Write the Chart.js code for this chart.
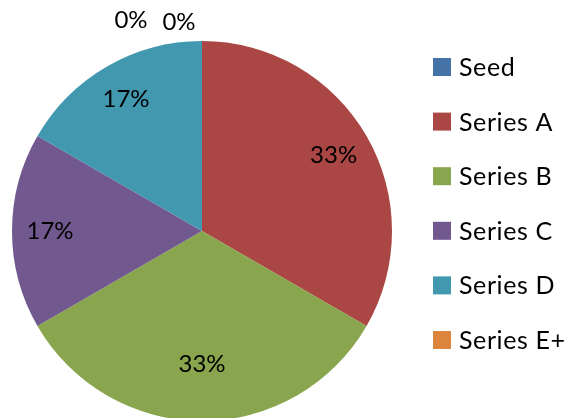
<!DOCTYPE html>
<html>
<head>
<meta charset="utf-8">
<script src="https://cdn.jsdelivr.net/npm/chart.js@4"></script>
<style>
  html, body { margin: 0; padding: 0; background: #fff; overflow: hidden; }
  #wrap { width: 571px; height: 418px; }
</style>
</head>
<body>
<div id="wrap"><canvas id="share_pie"></canvas></div>
<script>
"use strict"

// slice categories and their counts
var categories = ['Seed', 'Series A', 'Series B', 'Series C', 'Series D', 'Series E+'];
var counts = [0, 2, 2, 1, 1, 0];
var colors = ['#4572A7', '#AA4643', '#89A54E', '#71588F', '#4198AF', '#DB843D'];

var FONT = 'Lato, "Open Sans", sans-serif';

// percent labels on the slices
var pctLabels = {
    id: 'pctLabels',
    afterDatasetsDraw: function (chart) {
        var ctx = chart.ctx;
        var meta = chart.getDatasetMeta(0);
        var data = chart.data.datasets[0].data;
        var total = data.reduce(function (a, b) { return a + b; }, 0);
        var zeroCount = 0;
        ctx.save();
        ctx.fillStyle = '#000';
        ctx.font = '24px ' + FONT;
        ctx.textAlign = 'center';
        ctx.textBaseline = 'middle';
        meta.data.forEach(function (arc, i) {
            var pct = Math.round(data[i] / total * 100) + '%';
            var mid = (arc.startAngle + arc.endAngle) / 2;
            var x, y;
            if (data[i] === 0) {
                // empty slices sit above the rim, side by side
                x = arc.x + Math.cos(mid) * (arc.outerRadius + 20) - 71 + zeroCount * 48;
                y = arc.y + Math.sin(mid) * (arc.outerRadius + 20) - 1 + zeroCount * 2;
                zeroCount++;
            } else {
                var r = arc.outerRadius * 0.8;
                x = arc.x + Math.cos(mid) * r;
                y = Math.min(arc.y + Math.sin(mid) * r, chart.height - 54);
            }
            ctx.fillText(pct, x, y);
        });
        ctx.restore();
    }
};

// legend column on the right
var sideLegend = {
    id: 'sideLegend',
    afterDraw: function (chart) {
        var ctx = chart.ctx;
        var ds = chart.data.datasets[0];
        ctx.save();
        ctx.font = '25px ' + FONT;
        ctx.letterSpacing = '0.6px';
        ctx.textBaseline = 'middle';
        chart.data.labels.forEach(function (label, i) {
            var top = 58 + i * 54.6;
            ctx.fillStyle = ds.backgroundColor[i];
            ctx.fillRect(433, top, 18, 18);
            ctx.fillStyle = '#000';
            ctx.fillText(label, 459, top + 10);
        });
        ctx.restore();
    }
};

var pie_config = {
    type: 'pie',
    data: {
        labels: categories,
        datasets: [{
            data: counts,
            backgroundColor: colors,
            borderWidth: 0,
            hoverOffset: 0
        }]
    },
    options: {
        responsive: true,
        maintainAspectRatio: false,
        animation: false,
        radius: 190,
        layout: {
            padding: { left: 0, right: 167, top: 44, bottom: 0 }
        },
        plugins: {
            legend: { display: false },
            tooltip: { enabled: false }
        }
    },
    plugins: [pctLabels, sideLegend]
};

var pie_ctx = document.getElementById('share_pie').getContext('2d');
var pie_chart = new Chart(pie_ctx, pie_config);
</script>
</body>
</html>
